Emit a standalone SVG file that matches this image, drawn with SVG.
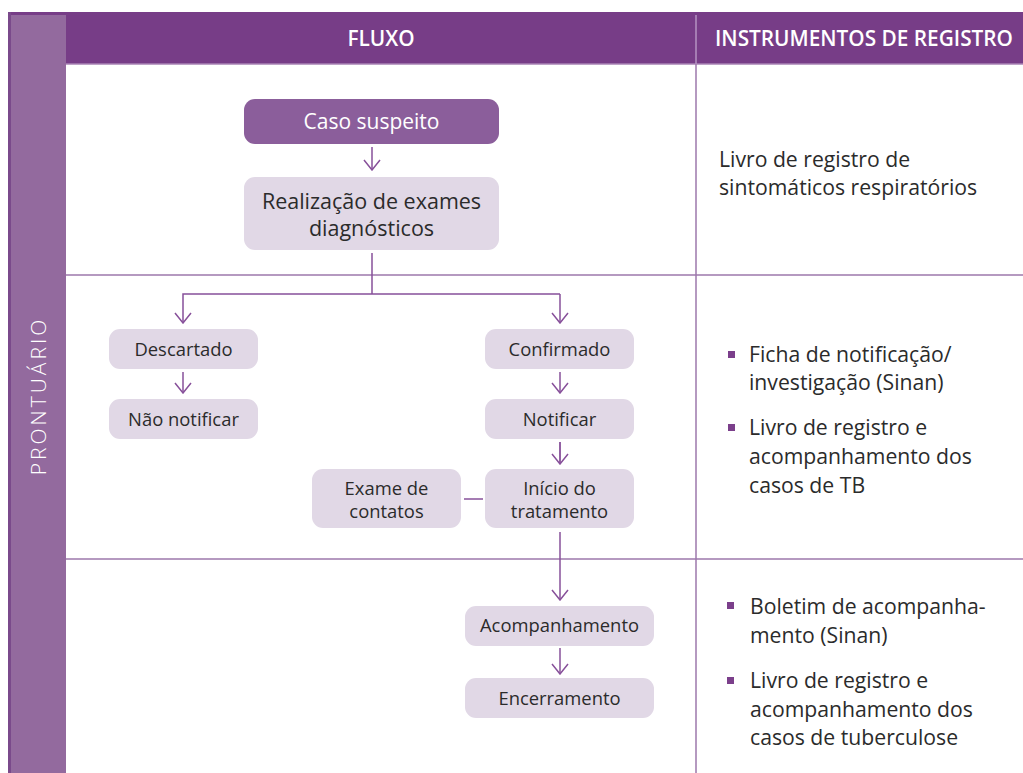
<svg xmlns="http://www.w3.org/2000/svg" width="1023" height="773" viewBox="0 0 1023 773">
<defs>
<style>
.box{fill:#e1d8e6}
.t{font-family:"Open Sans","Noto Sans",sans-serif;font-size:18.4px;fill:#2b2b2b;text-anchor:middle}
.r{font-family:"Open Sans","Noto Sans",sans-serif;font-size:21.2px;fill:#2b2b2b}
.h{font-family:"Open Sans","Noto Sans",sans-serif;font-size:20.8px;font-weight:600;fill:#ffffff;text-anchor:middle}
.c{fill:none;stroke:#87509a;stroke-width:1.5}
.g{fill:none;stroke:#9d77ab;stroke-width:1.5}
.b{fill:#7b3f8b}
</style>
<marker id="ah" viewBox="0 0 12 20" markerUnits="userSpaceOnUse" markerWidth="12" markerHeight="20" refX="11" refY="10" orient="auto">
<path d="M1,2 L11,10 L1,18" fill="none" stroke="#87509a" stroke-width="1.5"/>
</marker>
</defs>
<rect x="0" y="0" width="1023" height="773" fill="#ffffff"/>
<g id="header">
<rect x="8" y="12" width="1015" height="52" fill="#773d87"/>
<rect x="8" y="12" width="3" height="761" fill="#7a4a8b"/>
<rect x="11" y="15" width="55" height="758" fill="#936a9e"/>
<line x1="66" y1="64" x2="1023" y2="64" stroke="#a883b5" stroke-width="1.5"/>
<line x1="696" y1="15" x2="696" y2="64" stroke="#b593c2" stroke-width="1.5"/>
<text class="h" x="381" y="46">FLUXO</text>
<text class="h" x="864" y="46">INSTRUMENTOS DE REGISTRO</text>
<text x="38" y="396" transform="rotate(-90 38 396)" font-family="Open Sans, Noto Sans, sans-serif" font-size="21" font-weight="300" letter-spacing="3" fill="#ffffff" text-anchor="middle" dominant-baseline="central">PRONTUÁRIO</text>
</g>
<g id="grid">
<line class="g" x1="696" y1="64" x2="696" y2="773"/>
<line class="g" x1="66" y1="275" x2="1023" y2="275"/>
<line class="g" x1="66" y1="559" x2="1023" y2="559"/>
</g>
<g id="connectors">
<path class="c" d="M372,147 V170" marker-end="url(#ah)"/>
<path class="c" d="M372,253 V294"/>
<path class="c" d="M560,294 H183 V323" marker-end="url(#ah)"/>
<path class="c" d="M560,294 V323" marker-end="url(#ah)"/>
<path class="c" d="M183,372 V393" marker-end="url(#ah)"/>
<path class="c" d="M560,372 V393" marker-end="url(#ah)"/>
<path class="c" d="M560,442 V464" marker-end="url(#ah)" style="stroke-width:1.8"/>
<path class="c" d="M483,499 H464"/>
<path class="c" d="M560,532 V600" marker-end="url(#ah)"/>
<path class="c" d="M560,648 V674" marker-end="url(#ah)"/>
</g>
<g id="caso-suspeito">
<rect x="244" y="99" width="255" height="45" rx="11" fill="#8b5e9b"/>
<text class="t" x="371.5" y="129" style="fill:#ffffff;font-size:21px;font-weight:500">Caso suspeito</text>
</g>
<g id="realizacao">
<rect class="box" x="244" y="177" width="255" height="73" rx="11"/>
<text class="t" x="371.5" y="209" style="font-size:21.5px">Realização de exames</text>
<text class="t" x="371.5" y="236" style="font-size:21.5px">diagnósticos</text>
</g>
<g id="descartado">
<rect class="box" x="109" y="329" width="149" height="40" rx="11"/>
<text class="t" x="183.5" y="356">Descartado</text>
</g>
<g id="nao-notificar">
<rect class="box" x="109" y="399" width="149" height="40" rx="11"/>
<text class="t" x="183.5" y="426">Não notificar</text>
</g>
<g id="confirmado">
<rect class="box" x="485" y="329" width="149" height="40" rx="11"/>
<text class="t" x="559.5" y="356">Confirmado</text>
</g>
<g id="notificar">
<rect class="box" x="485" y="399" width="149" height="40" rx="11"/>
<text class="t" x="559.5" y="426">Notificar</text>
</g>
<g id="inicio-tratamento">
<rect class="box" x="485" y="469" width="149" height="59" rx="11"/>
<text class="t" x="559.5" y="495">Início do</text>
<text class="t" x="559.5" y="518">tratamento</text>
</g>
<g id="exame-contatos">
<rect class="box" x="312" y="469" width="149" height="59" rx="11"/>
<text class="t" x="386.5" y="495">Exame de</text>
<text class="t" x="386.5" y="518">contatos</text>
</g>
<g id="acompanhamento">
<rect class="box" x="465" y="606" width="189" height="40" rx="11"/>
<text class="t" x="559.5" y="632">Acompanhamento</text>
</g>
<g id="encerramento">
<rect class="box" x="465" y="678" width="189" height="40" rx="11"/>
<text class="t" x="559.5" y="705">Encerramento</text>
</g>
<g id="instrumentos-1">
<text class="r" x="719" y="167">Livro de registro de</text>
<text class="r" x="719" y="195">sintomáticos respiratórios</text>
</g>
<g id="instrumentos-2">
<rect class="b" x="728" y="351" width="7" height="7"/>
<text class="r" x="749" y="362">Ficha de notificação/</text>
<text class="r" x="749" y="390">investigação (Sinan)</text>
<rect class="b" x="728" y="424" width="7" height="7"/>
<text class="r" x="749" y="435">Livro de registro e</text>
<text class="r" x="749" y="464">acompanhamento dos</text>
<text class="r" x="749" y="493">casos de TB</text>
</g>
<g id="instrumentos-3">
<rect class="b" x="727" y="602" width="7" height="7"/>
<text class="r" x="750" y="614">Boletim de acompanha-</text>
<text class="r" x="750" y="643">mento (Sinan)</text>
<rect class="b" x="727" y="677" width="7" height="7"/>
<text class="r" x="750" y="688">Livro de registro e</text>
<text class="r" x="750" y="717">acompanhamento dos</text>
<text class="r" x="750" y="745">casos de tuberculose</text>
</g>
</svg>
